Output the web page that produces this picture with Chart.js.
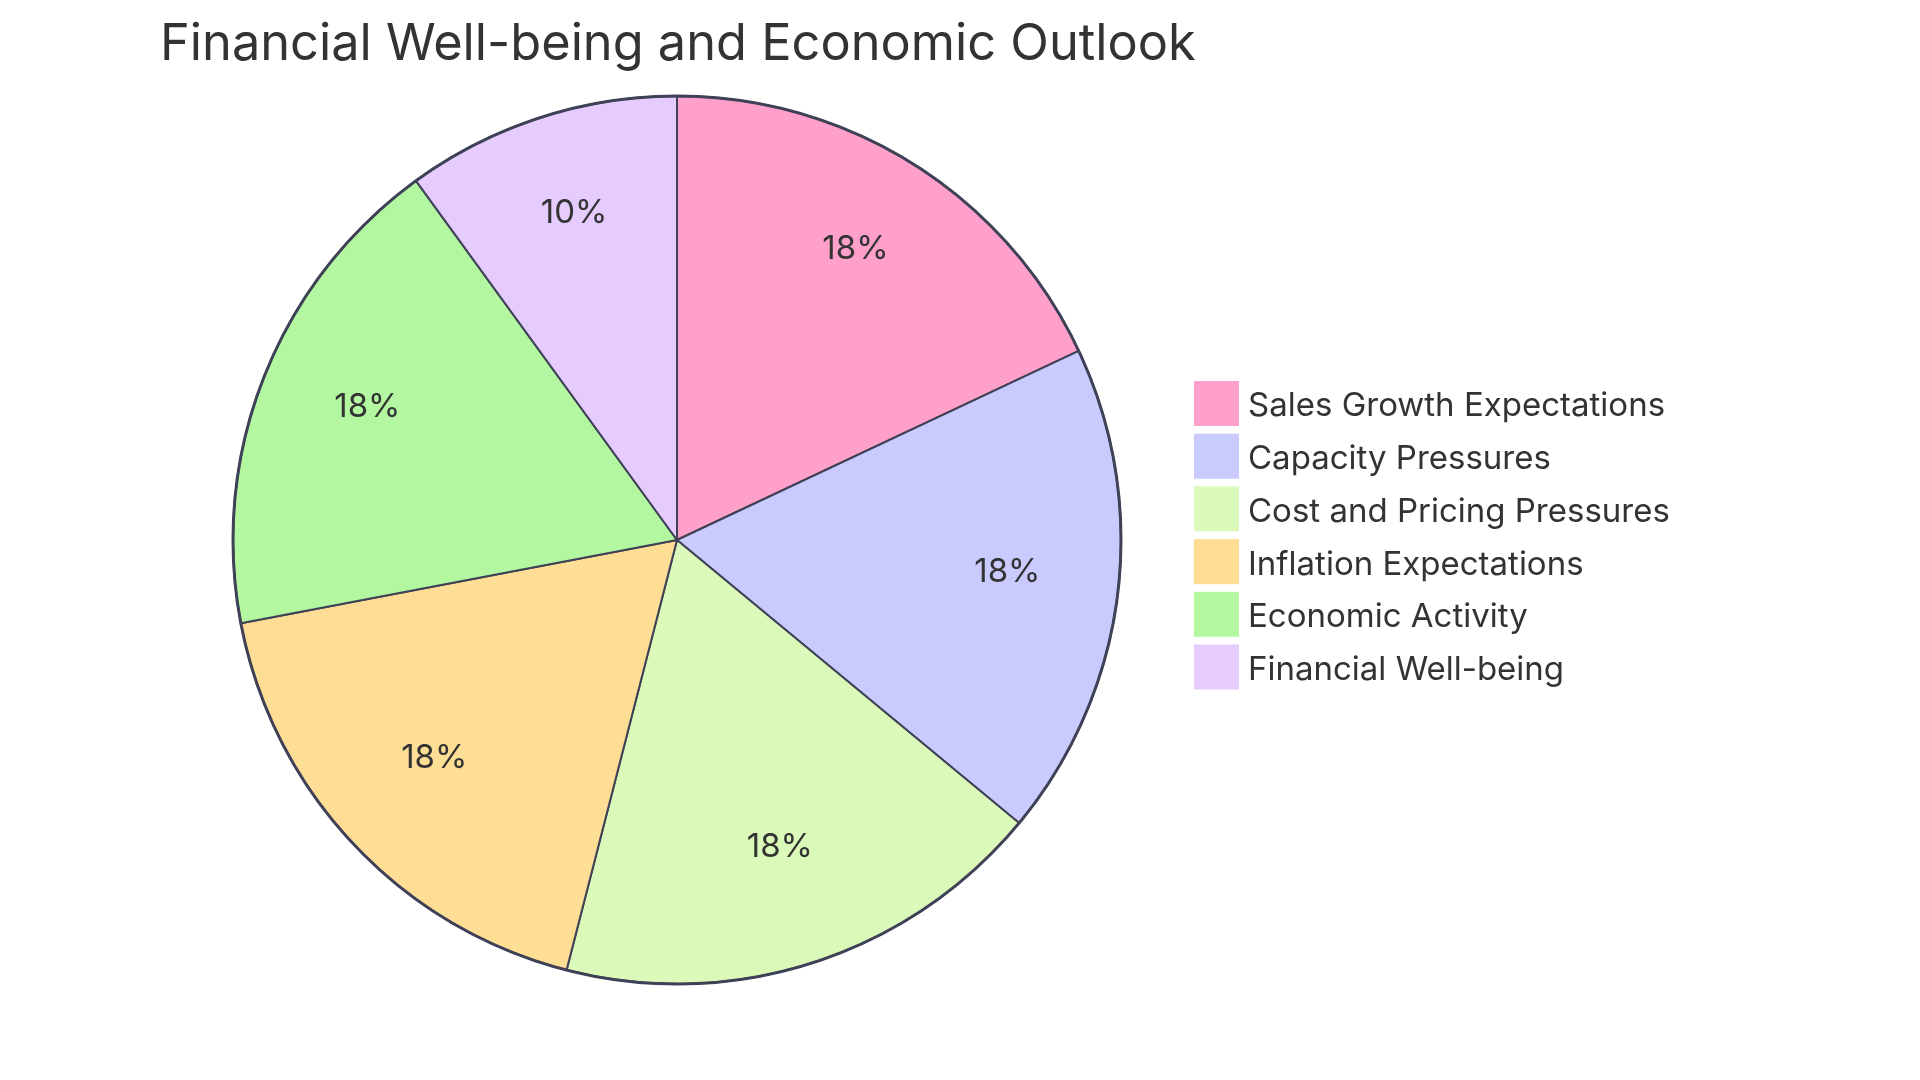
<!DOCTYPE html>
<html>
<head>
<meta charset="utf-8">
<title>Financial Well-being and Economic Outlook</title>
<script src="https://cdn.jsdelivr.net/npm/chart.js@4/dist/chart.umd.min.js"></script>
<style>
  html, body { margin: 0; padding: 0; background: #fff; }
  #wrap { position: relative; width: 1920px; height: 1080px; }
</style>
</head>
<body>
<div id="wrap"><canvas id="chart-pie" width="1920" height="1080"></canvas></div>
<script>
const categories = [
    'Sales Growth Expectations',
    'Capacity Pressures',
    'Cost and Pricing Pressures',
    'Inflation Expectations',
    'Economic Activity',
    'Financial Well-being',
];
const shares = [18, 18, 18, 18, 18, 10];
const sliceColors = ['#fea0c9', '#c9cbfe', '#dbf9b8', '#fedd94', '#b3f8a1', '#e6cbfe'];

const titleText = 'Financial Well-being and Economic Outlook';
const FONT = 'Inter, "Open Sans", sans-serif';
const INK = '#333333';
const STROKE = '#3f4257';

// title, outer ring, percent labels and the legend are drawn here
const decorations = {
    id: 'decorations',
    afterDatasetsDraw(chart) {
        const ctx = chart.ctx;
        const arcs = chart.getDatasetMeta(0).data;
        const total = shares.reduce((a, b) => a + b, 0);
        if (!arcs.length) return;

        const { x, y, outerRadius } = arcs[0].getProps(['x', 'y', 'outerRadius'], true);
        ctx.save();
        ctx.beginPath();
        ctx.arc(x, y, outerRadius, 0, Math.PI * 2);
        ctx.lineWidth = 3;
        ctx.strokeStyle = STROKE;
        ctx.stroke();

        ctx.fillStyle = INK;
        ctx.font = `33px ${FONT}`;
        ctx.textAlign = 'center';
        ctx.textBaseline = 'alphabetic';
        arcs.forEach((arc, i) => {
            const p = arc.getProps(['startAngle', 'endAngle', 'outerRadius', 'x', 'y'], true);
            const mid = (p.startAngle + p.endAngle) / 2;
            const r = p.outerRadius * 0.75;
            const pct = Math.round(shares[i] / total * 100) + '%';
            ctx.fillText(pct, p.x + Math.cos(mid) * r, p.y + Math.sin(mid) * r);
        });

        // title
        ctx.textAlign = 'left';
        ctx.font = `50.5px ${FONT}`;
        ctx.fillText(titleText, 160, 60);

        // legend
        const boxX = 1194, boxSize = 45, top0 = 381, step = 52.7;
        ctx.font = `33px ${FONT}`;
        ctx.textBaseline = 'middle';
        categories.forEach((label, i) => {
            const top = top0 + i * step;
            ctx.fillStyle = sliceColors[i];
            ctx.fillRect(boxX, top, boxSize, boxSize);
            ctx.fillStyle = INK;
            ctx.fillText(label, 1248, top + boxSize / 2 + 3);
        });
        ctx.restore();
    },
};

new Chart(document.getElementById('chart-pie'), {
    type: 'pie',
    data: {
        labels: categories,
        datasets: [{
            data: shares,
            backgroundColor: sliceColors,
            borderColor: STROKE,
            borderWidth: 2,
        }],
    },
    options: {
        responsive: false,
        animation: false,
        rotation: 0,
        layout: { padding: { left: 232, right: 798, top: 95, bottom: 95 } },
        plugins: {
            legend: { display: false },
            title: { display: false },
            tooltip: { enabled: false },
        },
    },
    plugins: [decorations],
});
</script>
</body>
</html>
